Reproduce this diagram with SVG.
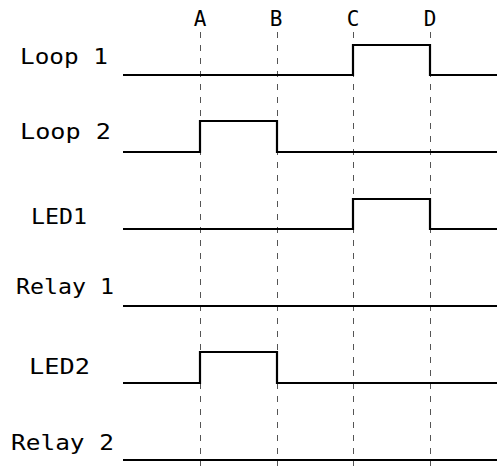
<svg xmlns="http://www.w3.org/2000/svg" width="497" height="466" viewBox="0 0 497 466">
<style>
.lbl{font-family:"DejaVu Sans Mono","Liberation Mono",monospace;font-size:20.5px;fill:#000}
.mark{font-family:"DejaVu Sans Mono","Liberation Mono",monospace;font-size:21px;fill:#000;text-anchor:middle}
.grid{stroke:#555;stroke-width:1;stroke-dasharray:6,7;fill:none}
.sig{stroke:#000;stroke-width:2.2;fill:none;stroke-linejoin:miter}
</style>
<rect width="497" height="466" fill="#fff"/>
<g id="markers">
<text class="mark" x="200" y="26">A</text>
<text class="mark" x="276" y="26">B</text>
<text class="mark" x="353" y="26">C</text>
<text class="mark" x="430" y="26">D</text>
</g>
<g id="connectors">
<line class="grid" x1="200.5" y1="32" x2="200.5" y2="466"/>
<line class="grid" x1="277.5" y1="32" x2="277.5" y2="466"/>
<line class="grid" x1="353.5" y1="32" x2="353.5" y2="466"/>
<line class="grid" x1="430.5" y1="32" x2="430.5" y2="466"/>
</g>
<g id="loop1">
<text class="lbl" x="20" y="64" textLength="88" lengthAdjust="spacingAndGlyphs">Loop 1</text>
<polyline class="sig" points="123,75 353,75 353,45 430,45 430,75 497,75"/>
</g>
<g id="loop2">
<text class="lbl" x="20" y="139" textLength="91" lengthAdjust="spacingAndGlyphs">Loop 2</text>
<polyline class="sig" points="123,152 200,152 200,121 277,121 277,152 497,152"/>
</g>
<g id="led1">
<text class="lbl" x="31" y="224" textLength="56" lengthAdjust="spacingAndGlyphs">LED1</text>
<polyline class="sig" points="123,229 353,229 353,199 430,199 430,229 497,229"/>
</g>
<g id="relay1">
<text class="lbl" x="16" y="294" textLength="98" lengthAdjust="spacingAndGlyphs">Relay 1</text>
<polyline class="sig" points="123,306 497,306"/>
</g>
<g id="led2">
<text class="lbl" x="29" y="374" textLength="61" lengthAdjust="spacingAndGlyphs">LED2</text>
<polyline class="sig" points="123,383 200,383 200,352 277,352 277,383 497,383"/>
</g>
<g id="relay2">
<text class="lbl" x="11" y="450" textLength="103" lengthAdjust="spacingAndGlyphs">Relay 2</text>
<polyline class="sig" points="123,460 497,460"/>
</g>
</svg>
